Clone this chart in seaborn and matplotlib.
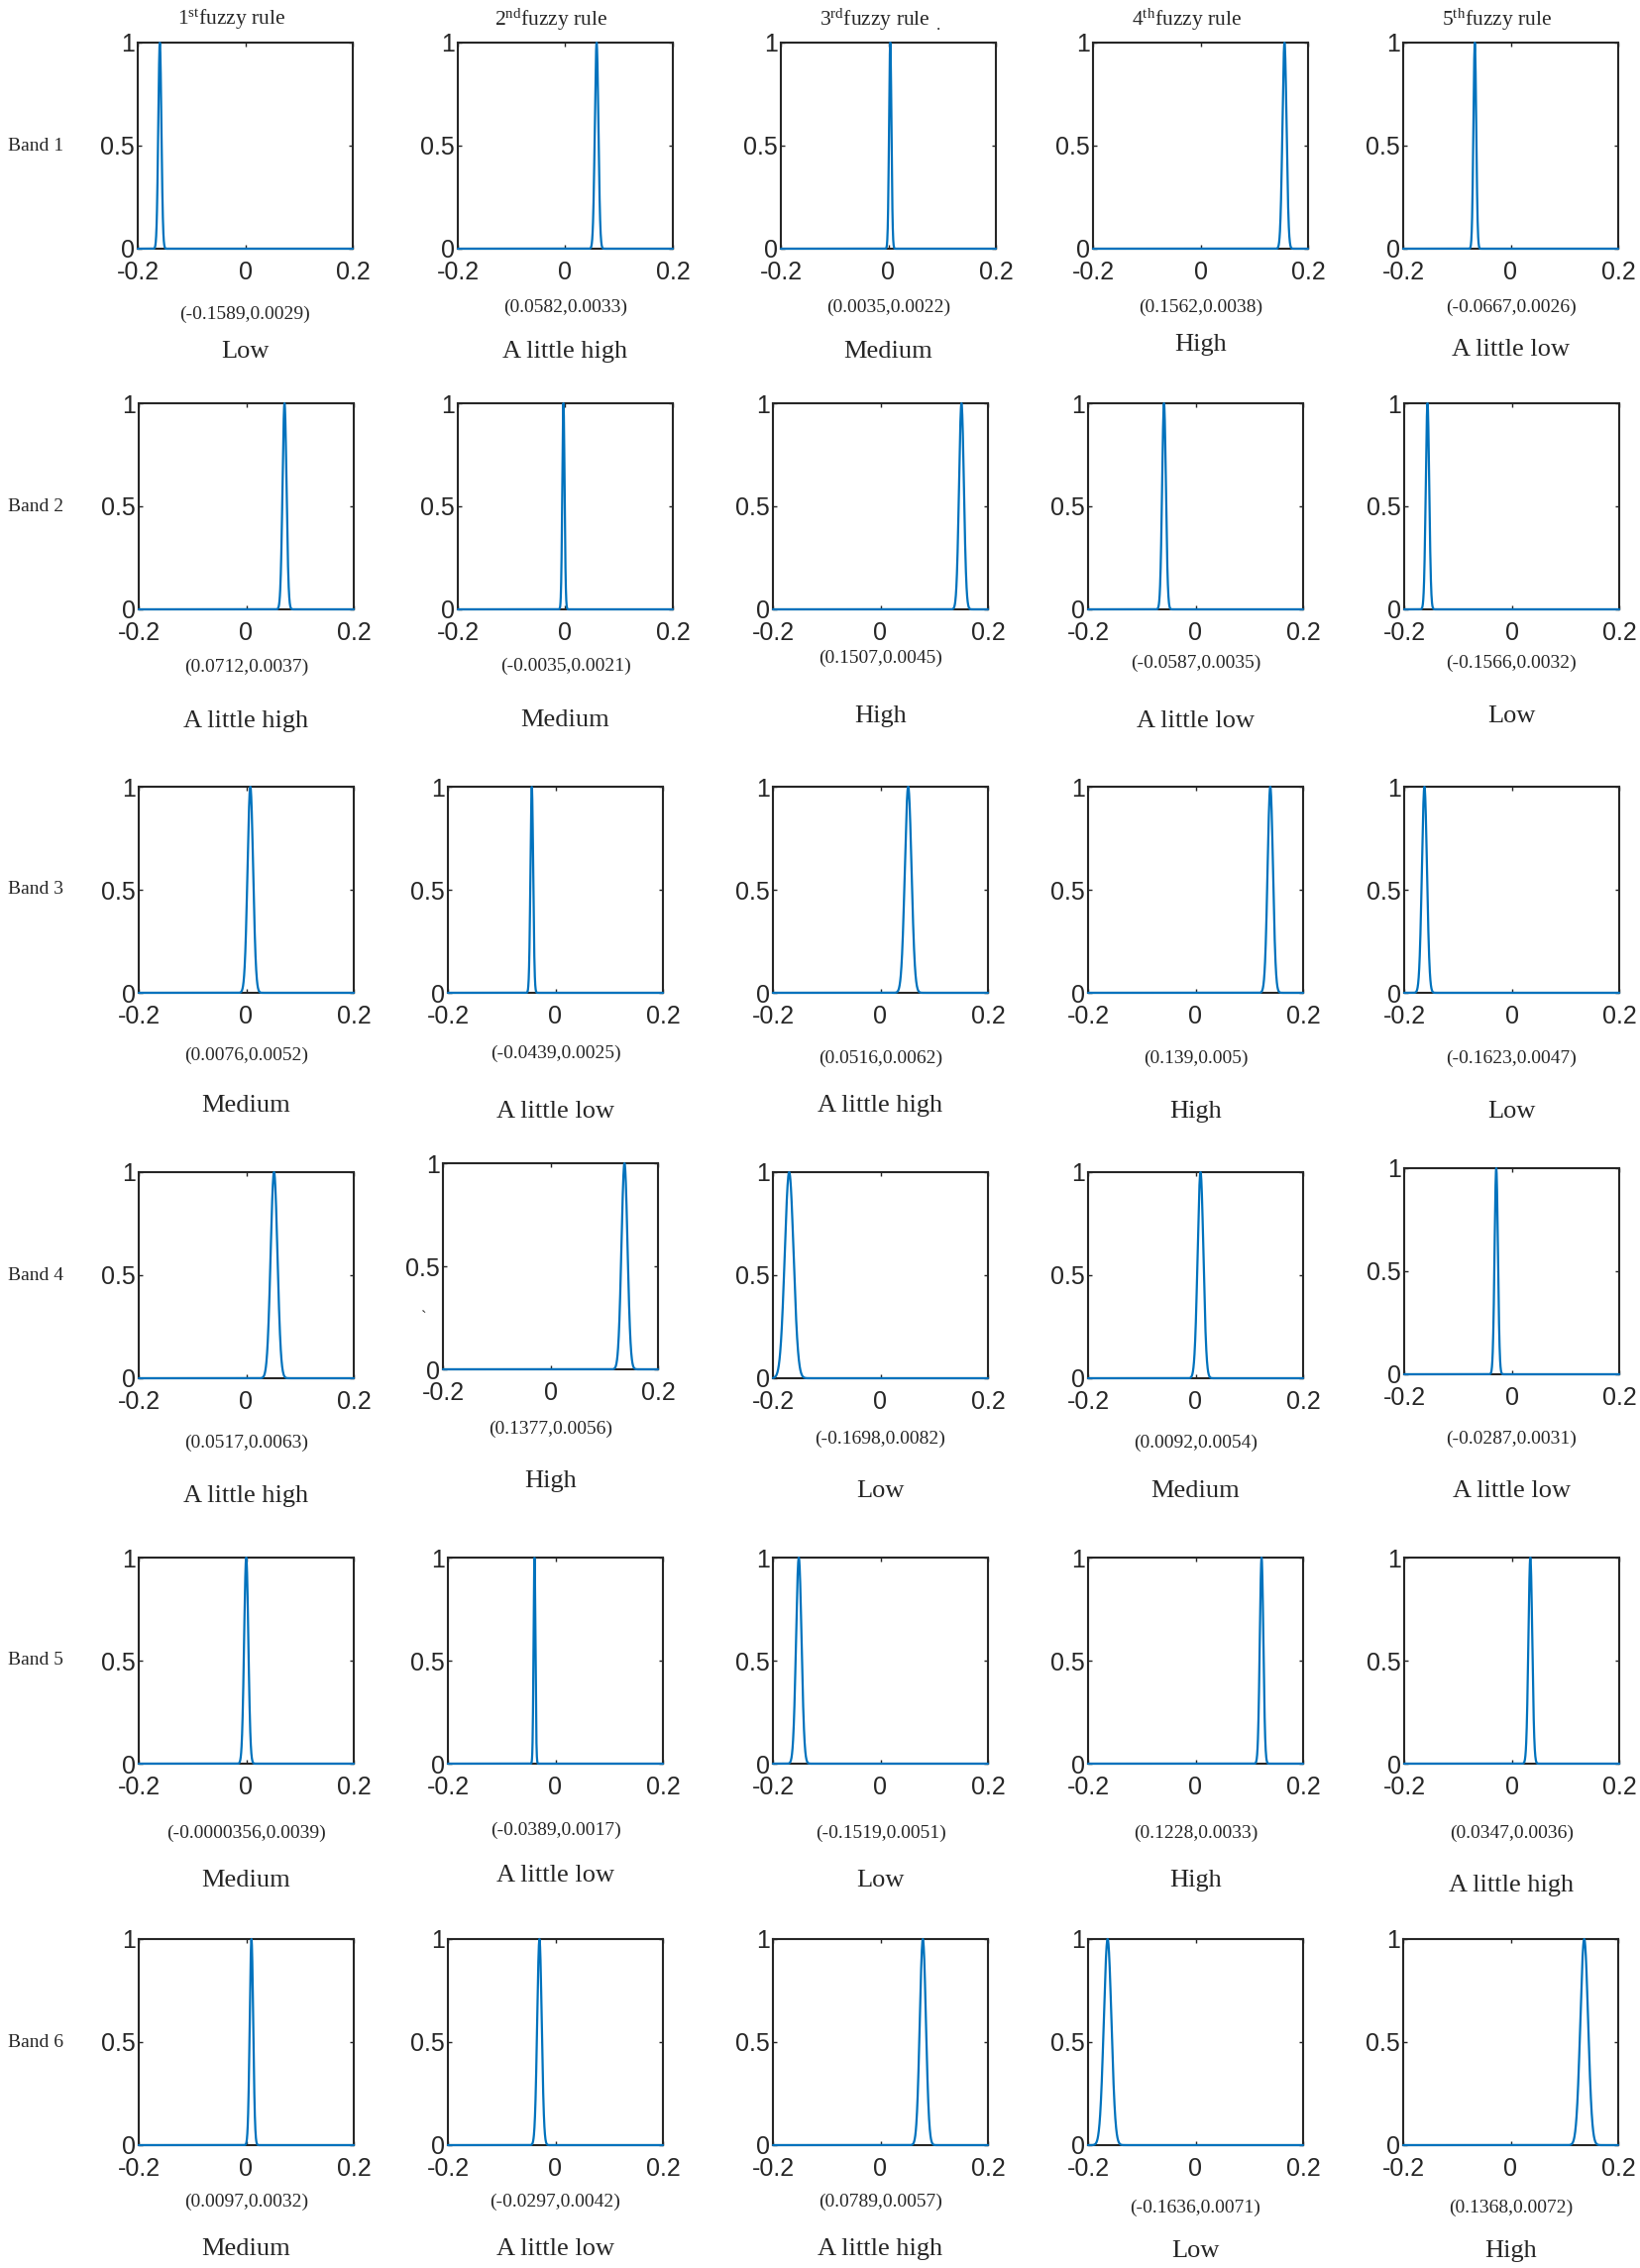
import numpy as np
import matplotlib.pyplot as plt
import seaborn as sns

# Gaussian membership functions: centre and width of each rule per band
bands = ['Band 1', 'Band 2', 'Band 3', 'Band 4', 'Band 5', 'Band 6']
rules = ['1', '2', '3', '4', '5']
rule_suffix = ['st', 'nd', 'rd', 'th', 'th']

centers = [
    [-0.1589, 0.0582, 0.0035, 0.1562, -0.0667],
    [0.0712, -0.0035, 0.1507, -0.0587, -0.1566],
    [0.0076, -0.0439, 0.0516, 0.139, -0.1623],
    [0.0517, 0.1377, -0.1698, 0.0092, -0.0287],
    [-0.0000356, -0.0389, -0.1519, 0.1228, 0.0347],
    [0.0097, -0.0297, 0.0789, -0.1636, 0.1368],
]
sigmas = [
    [0.0029, 0.0033, 0.0022, 0.0038, 0.0026],
    [0.0037, 0.0021, 0.0045, 0.0035, 0.0032],
    [0.0052, 0.0025, 0.0062, 0.005, 0.0047],
    [0.0063, 0.0056, 0.0082, 0.0054, 0.0031],
    [0.0039, 0.0017, 0.0051, 0.0033, 0.0036],
    [0.0032, 0.0042, 0.0057, 0.0071, 0.0072],
]
terms = [
    ['Low', 'A little high', 'Medium', 'High', 'A little low'],
    ['A little high', 'Medium', 'High', 'A little low', 'Low'],
    ['Medium', 'A little low', 'A little high', 'High', 'Low'],
    ['A little high', 'High', 'Low', 'Medium', 'A little low'],
    ['Medium', 'A little low', 'Low', 'High', 'A little high'],
    ['Medium', 'A little low', 'A little high', 'Low', 'High'],
]
x_ticks = [-0.2, 0, 0.2]
y_ticks = [0, 0.5, 1]
x_tick_labels = ['-0.2', '0', '0.2']
y_tick_labels = ['0', '0.5', '1']

# layout in pixels (the original is a pasted-together composite)
W, H = 1655, 2289
ax_w, ax_h = 217, 208
lefts = [
    [139, 462, 788, 1103, 1416],
    [140, 462, 780, 1098, 1417],
    [140, 452, 780, 1098, 1417],
    [140, 447, 780, 1098, 1417],
    [140, 452, 780, 1098, 1417],
    [140, 452, 780, 1098, 1416],
]
tops = [
    [43] * 5,
    [407] * 5,
    [794] * 5,
    [1183, 1174, 1183, 1183, 1179],
    [1572] * 5,
    [1957] * 5,
]
param_y = [
    [317, 310, 310, 310, 310],
    [673, 672, 664, 669, 669],
    [1065, 1063, 1068, 1068, 1068],
    [1456, 1442, 1452, 1456, 1452],
    [1850, 1847, 1850, 1850, 1850],
    [2222, 2222, 2222, 2228, 2228],
]
term_y = [
    [355, 355, 355, 348, 353],
    [728, 727, 723, 728, 723],
    [1116, 1122, 1116, 1122, 1122],
    [1510, 1495, 1505, 1505, 1505],
    [1898, 1893, 1898, 1898, 1903],
    [2270, 2270, 2270, 2272, 2272],
]

sns.set_style('white')
plt.rcParams['font.family'] = ['Liberation Sans', 'DejaVu Sans']
plt.rcParams['mathtext.fontset'] = 'custom'
plt.rcParams['mathtext.rm'] = 'Liberation Serif'
plt.rcParams['mathtext.it'] = 'Liberation Serif:italic'
serif = ['Liberation Serif', 'DejaVu Serif']
dark = '#262626'

fig = plt.figure(figsize=(W / 100, H / 100), dpi=100)
xs = np.linspace(-0.2, 0.2, 1601)

for i in range(len(bands)):
    for j in range(len(rules)):
        l, t = lefts[i][j], tops[i][j]
        ax = fig.add_axes([l / W, 1 - (t + ax_h) / H, ax_w / W, ax_h / H])
        c, s = centers[i][j], sigmas[i][j]
        ys = np.exp(-(xs - c) ** 2 / (2 * s ** 2))
        sns.lineplot(x=xs, y=ys, ax=ax, color='#0072BD', linewidth=1.6,
                     sort=False, clip_on=False, zorder=3)
        ax.set_xlim(-0.2, 0.2)
        ax.set_ylim(0, 1)
        ax.set_xticks(x_ticks)
        ax.set_xticklabels(x_tick_labels)
        ax.set_yticks(y_ticks)
        ax.set_yticklabels(y_tick_labels)
        ax.tick_params(direction='in', length=3, width=1, color=dark,
                       top=True, right=True, bottom=True, left=True,
                       labelsize=18, labelcolor=dark)
        ax.tick_params(axis='x', pad=8.5)
        ax.tick_params(axis='y', pad=2)
        for sp in ax.spines.values():
            sp.set_color(dark)
            sp.set_linewidth(1.5)

        cx = (l + ax_w / 2) / W
        ptxt = '(%s,%s)' % (np.format_float_positional(c),
                            np.format_float_positional(s))
        fig.text(cx, 1 - param_y[i][j] / H, ptxt, ha='center', va='center',
                 fontsize=14, family=serif)
        fig.text(cx, 1 - term_y[i][j] / H, terms[i][j], ha='center',
                 va='center', fontsize=19, family=serif)

        if i == 0:
            title = r'$\mathrm{%s^{%s}}$fuzzy rule' % (rules[j], rule_suffix[j])
            fig.text(cx - 14 / W, 1 - 20 / H, title, ha='center',
                     va='center', fontsize=15.5, family=serif)

    fig.text(8 / W, 1 - (tops[i][0] + ax_h / 2) / H, bands[i], ha='left',
             va='center', fontsize=14, family=serif)

# stray marks present in the original composite
fig.text(947 / W, 1 - 26 / H, '.', ha='center', va='center', fontsize=12,
         family=serif)
fig.text(428 / W, 1 - 1330 / H, '`', ha='center', va='center', fontsize=12,
         family=serif)

fig.savefig('out.png', dpi=100)
plt.close(fig)
